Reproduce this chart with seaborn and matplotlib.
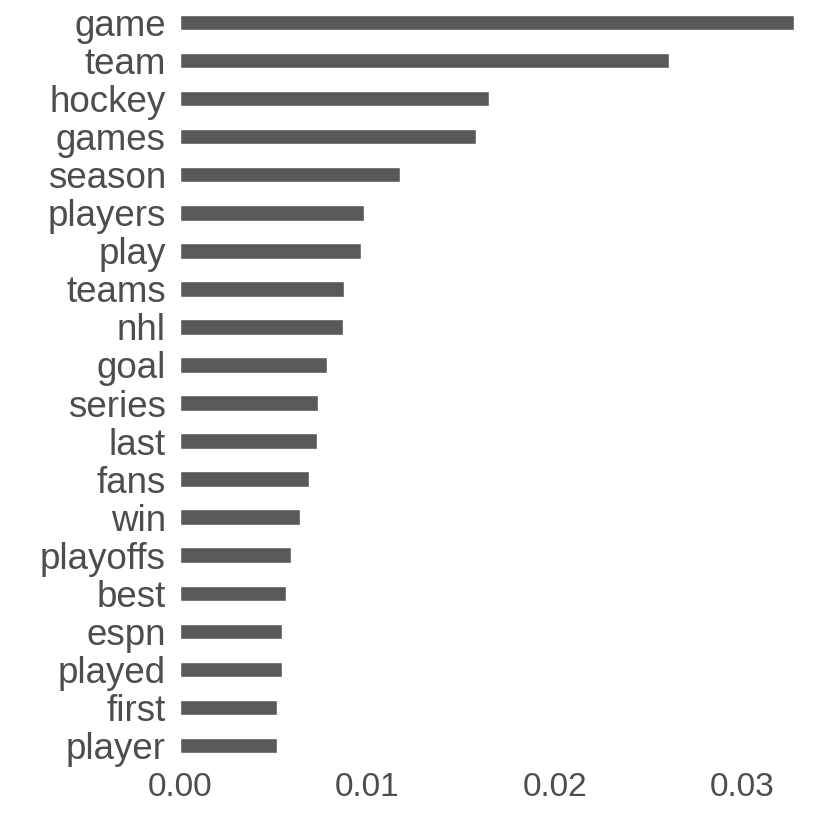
import matplotlib
matplotlib.use("Agg")
import matplotlib.pyplot as plt
import pandas as pd
import seaborn as sns

terms = ["game", "team", "hockey", "games", "season", "players", "play", "teams",
         "nhl", "goal", "series", "last", "fans", "win", "playoffs", "best",
         "espn", "played", "first", "player"]
beta = [0.03275, 0.02608, 0.01648, 0.01579, 0.01173, 0.00981, 0.00965, 0.00875,
        0.00869, 0.00784, 0.00736, 0.00731, 0.00688, 0.00640, 0.00592, 0.00565,
        0.00544, 0.00544, 0.00517, 0.00517]
xticks = [0.00, 0.01, 0.02, 0.03]
xtick_labels = ["0.00", "0.01", "0.02", "0.03"]

df = pd.DataFrame({"term": terms, "beta": beta})

sns.set_theme(style="white")
plt.rcParams["font.family"] = ["Liberation Sans", "DejaVu Sans"]

fig = plt.figure(figsize=(8.25, 8.25), dpi=100)
W = 825.0
ax = fig.add_axes([168 / W, (825 - 768) / W, (819 - 168) / W, 768 / W])

sns.barplot(data=df, x="beta", y="term", order=terms, orient="h",
            color="#595959", saturation=1, width=0.4, ax=ax)

ax.set_xlim(-0.00064, 0.03408)
ax.set_ylim(len(terms) - 0.4, -0.6)
ax.set_xticks(xticks)
ax.set_xticklabels(xtick_labels)
ax.set_xlabel("")
ax.set_ylabel("")
for s in ax.spines.values():
    s.set_visible(False)
ax.tick_params(axis="both", length=0, labelcolor="#4D4D4D")
ax.tick_params(axis="y", pad=1.5, labelsize=26.5)
ax.tick_params(axis="x", pad=3, labelsize=24)

fig.savefig("out.png", dpi=100)
